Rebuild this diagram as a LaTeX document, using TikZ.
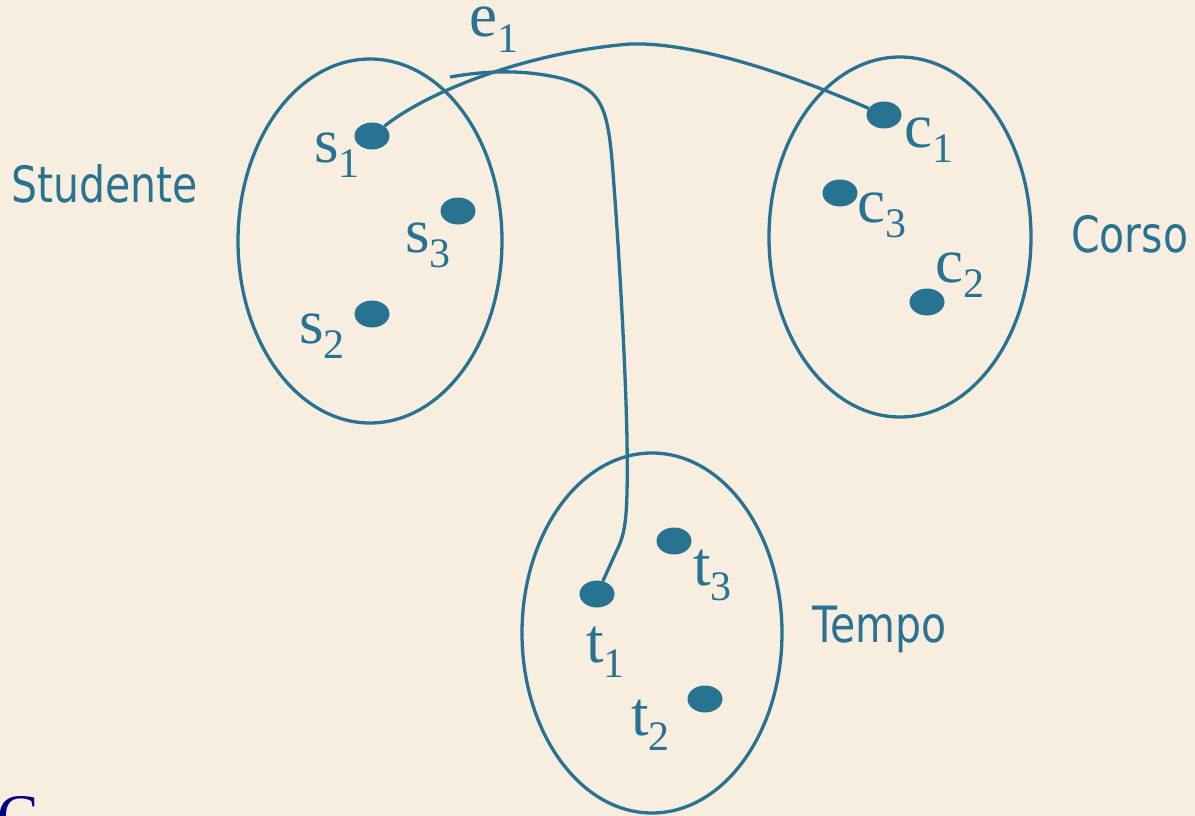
\documentclass[tikz,border=0pt]{standalone}
\usepackage{fontspec}
\setmainfont{Liberation Serif}
\newfontfamily\elemfont{Liberation Serif}
\newfontfamily\setnamefont[FakeStretch=0.82]{DejaVu Sans}
\usetikzlibrary{shapes.geometric}
\definecolor{diagblue}{RGB}{40,115,145}
\definecolor{bgbeige}{RGB}{247,238,224}
\definecolor{slidenavy}{RGB}{0,0,128}
\newcommand{\elm}[2]{#1\raisebox{-0.25em}{\fontsize{42}{42}\selectfont #2}}

\begin{document}
\begin{tikzpicture}[x=1pt,y=-1pt,
    dot/.style={ellipse,fill=diagblue,minimum width=35pt,minimum height=27pt,inner sep=0pt},
    elem/.style={anchor=base west,inner sep=0pt,text=diagblue,font=\elemfont\fontsize{63}{63}\selectfont},
    setname/.style={anchor=base west,inner sep=0pt,text=diagblue,font=\setnamefont\fontsize{50}{50}\selectfont},
    setline/.style={draw=diagblue,line width=3.3pt}
    ]
    \fill[bgbeige] (0,0) rectangle (1195,816);
    \clip (0,0) rectangle (1195,816);

    \draw[setline] (370,241) ellipse [x radius=132, y radius=182];
    \draw[setline] (900,237) ellipse [x radius=131, y radius=180];
    \draw[setline] (652,633) ellipse [x radius=130, y radius=180];

    \node[setname] (studente) at (11,202) {Studente};
    \node[setname] (corso) at (1071,252) {Corso};
    \node[setname] (tempo) at (812,642) {Tempo};

    \node[dot] (s1) at (372,136) {};
    \node[dot] (s3) at (458,211) {};
    \node[dot] (s2) at (372,314) {};
    \node[dot] (c1) at (884,115) {};
    \node[dot] (c3) at (840,193) {};
    \node[dot] (c2) at (927,302) {};
    \node[dot] (t3) at (674,541) {};
    \node[dot] (t1) at (597,594) {};
    \node[dot] (t2) at (705,699) {};

    \node[elem] (ls1) at (314,162) {\elm{s}{1}};
    \node[elem] (ls3) at (405,252) {\elm{s}{3}};
    \node[elem] (ls2) at (299,343) {\elm{s}{2}};
    \node[elem] (lc1) at (904,147) {\elm{c}{1}};
    \node[elem] (lc3) at (857,222) {\elm{c}{3}};
    \node[elem] (lc2) at (935,282) {\elm{c}{2}};
    \node[elem] (lt3) at (693,585) {\elm{t}{3}};
    \node[elem] (lt1) at (586,662) {\elm{t}{1}};
    \node[elem] (lt2) at (631,735) {\elm{t}{2}};
    \node[elem] (le1) at (469,37) {\elm{e}{1}};

    \coordinate (e1start) at (450,77);
    \draw[setline] (s1) .. controls (430,90) and (530,52) .. (630,44)
        .. controls (690,42) and (780,70) .. (c1);
    \draw[setline] (e1start) .. controls (490,70) and (525,70) .. (560,78)
        .. controls (600,88) and (607,105) .. (612,160)
        .. controls (620,260) and (626,380) .. (627,440)
        .. controls (628,515) and (626,532) .. (617,550) -- (t1);

    \node[anchor=base west,inner sep=0pt,text=slidenavy,font=\elemfont\fontsize{62}{62}\selectfont] (slidec) at (-3,837) {C};
\end{tikzpicture}
\end{document}
